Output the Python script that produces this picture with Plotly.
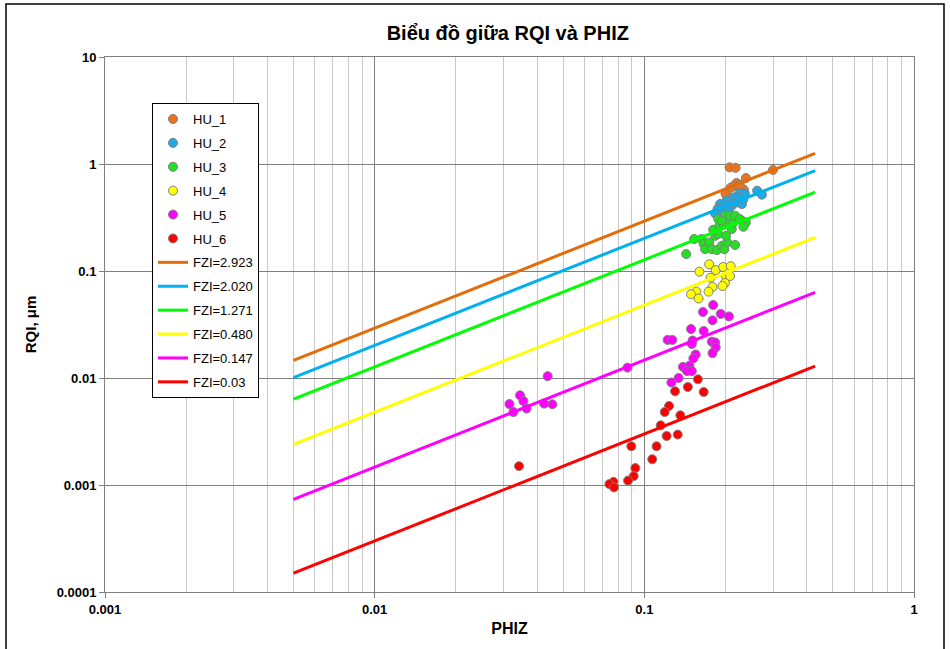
import plotly.graph_objects as go

# ---- data ----
hu1_phiz = [0.207, 0.218, 0.300, 0.238, 0.220, 0.214, 0.234, 0.209, 0.202, 0.228, 0.226, 0.200]
hu1_rqi = [0.93, 0.92, 0.88, 0.74, 0.665, 0.62, 0.575, 0.60, 0.505, 0.55, 0.64, 0.53]

hu2_phiz = [0.262, 0.273, 0.225, 0.214, 0.202, 0.191, 0.187, 0.183, 0.196, 0.211, 0.220, 0.230,
            0.233, 0.202, 0.194, 0.223, 0.236, 0.205]
hu2_rqi = [0.563, 0.517, 0.53, 0.487, 0.454, 0.423, 0.38, 0.345, 0.38, 0.408, 0.437, 0.423,
           0.47, 0.408, 0.341, 0.487, 0.527, 0.366]

hu3_phiz = [0.143, 0.153, 0.163, 0.166, 0.168, 0.174, 0.178, 0.186, 0.194, 0.198, 0.203, 0.217,
            0.183, 0.188, 0.201, 0.180, 0.190, 0.196, 0.211, 0.205, 0.214, 0.230, 0.238, 0.233,
            0.188, 0.199, 0.208, 0.217, 0.194, 0.226]
hu3_rqi = [0.144, 0.199, 0.199, 0.179, 0.160, 0.185, 0.160, 0.157, 0.172, 0.160, 0.185, 0.175,
           0.213, 0.222, 0.213, 0.243, 0.265, 0.275, 0.247, 0.284, 0.284, 0.295, 0.284, 0.259,
           0.306, 0.329, 0.329, 0.329, 0.295, 0.306]

hu4_phiz = [0.160, 0.174, 0.184, 0.196, 0.209, 0.176, 0.201, 0.208, 0.199, 0.195, 0.179, 0.173,
            0.156, 0.149, 0.159]
hu4_rqi = [0.0985, 0.1155, 0.102, 0.109, 0.111, 0.0866, 0.0885, 0.0898, 0.0772, 0.0724, 0.0709,
           0.0641, 0.0641, 0.0606, 0.0553]

hu5_phiz = [0.180, 0.165, 0.192, 0.206, 0.179, 0.149, 0.166, 0.122, 0.127, 0.151, 0.150, 0.178,
            0.183, 0.184, 0.179, 0.155, 0.152, 0.139, 0.147, 0.144, 0.150, 0.134, 0.126, 0.0866,
            0.0438, 0.0346, 0.0356, 0.0316, 0.0327, 0.0366, 0.0425, 0.0456]
hu5_rqi = [0.0481, 0.0414, 0.0397, 0.0376, 0.0346, 0.0287, 0.0275, 0.0227, 0.0227, 0.0224, 0.0208,
           0.0218, 0.0215, 0.0193, 0.0171, 0.0166, 0.0152, 0.0127, 0.0130, 0.0116, 0.0116, 0.0100,
           0.00908, 0.0125, 0.0104, 0.00689, 0.00610, 0.00571, 0.00481, 0.00518, 0.00576, 0.00568]

hu6_phiz = [0.158, 0.145, 0.166, 0.130, 0.1235, 0.119, 0.136, 0.115, 0.121, 0.133, 0.0895, 0.111,
            0.107, 0.0926, 0.0913, 0.087, 0.0768, 0.0742, 0.0772, 0.0343]
hu6_rqi = [0.00972, 0.00824, 0.00740, 0.00751, 0.00548, 0.00481, 0.00448, 0.00361, 0.00287, 0.00296,
           0.00230, 0.00230, 0.00174, 0.00144, 0.00121, 0.00110, 0.00107, 0.00102, 0.00095, 0.00150]

fzi_labels = ["FZI=2.923", "FZI=2.020", "FZI=1.271", "FZI=0.480", "FZI=0.147", "FZI=0.03"]
line_phiz = [0.005, 0.43]
fzi_2923_rqi = [0.0146, 1.257]
fzi_2020_rqi = [0.0101, 0.869]
fzi_1271_rqi = [0.00636, 0.547]
fzi_0480_rqi = [0.0024, 0.206]
fzi_0147_rqi = [0.000735, 0.0632]
fzi_003_rqi = [0.00015, 0.0129]

x_tickvals = [0.001, 0.01, 0.1, 1]
x_ticktext = ["0.001", "0.01", "0.1", "1"]
y_tickvals = [0.0001, 0.001, 0.01, 0.1, 1, 10]
y_ticktext = ["0.0001", "0.001", "0.01", "0.1", "1", "10"]

# ---- styles ----
point_series = [
    ("HU_1", hu1_phiz, hu1_rqi, "#E8741E"),
    ("HU_2", hu2_phiz, hu2_rqi, "#1EAAE6"),
    ("HU_3", hu3_phiz, hu3_rqi, "#22E022"),
    ("HU_4", hu4_phiz, hu4_rqi, "#FFFF00"),
    ("HU_5", hu5_phiz, hu5_rqi, "#FF00FF"),
    ("HU_6", hu6_phiz, hu6_rqi, "#FF0000"),
]
line_series = [
    (fzi_labels[0], fzi_2923_rqi, "#E46C0A"),
    (fzi_labels[1], fzi_2020_rqi, "#00B0F0"),
    (fzi_labels[2], fzi_1271_rqi, "#00FF00"),
    (fzi_labels[3], fzi_0480_rqi, "#FFFF00"),
    (fzi_labels[4], fzi_0147_rqi, "#FF00FF"),
    (fzi_labels[5], fzi_003_rqi, "#FF0000"),
]

FONT = "Liberation Sans, Arial, sans-serif"

fig = go.Figure()
for i, (name, xs, ys, col) in enumerate(point_series):
    fig.add_trace(go.Scatter(
        x=xs, y=ys, mode="markers", name=name, legendgroup="g%d" % i,
        marker=dict(size=9, color=col, line=dict(color="#7F7F7F", width=1)),
    ))
for j, (name, ys, col) in enumerate(line_series):
    fig.add_trace(go.Scatter(
        x=line_phiz, y=ys, mode="lines", name=name, legendgroup="l%d" % j,
        line=dict(color=col, width=3),
    ))

fig.update_layout(
    width=950, height=649,
    margin=dict(l=105, r=36, t=57, b=57),
    paper_bgcolor="white", plot_bgcolor="white",
    font=dict(family=FONT, color="#000000"),
    title=dict(text="Biểu đồ giữa RQI và PHIZ", x=0.5345, xanchor="center",
               y=1 - 33 / 649, yanchor="middle",
               font=dict(size=20, family=FONT, color="#000", weight="bold")),
    showlegend=True,
    legend=dict(x=(152 - 105) / 809, y=(592 - 103) / 535, xanchor="left", yanchor="top",
                bgcolor="white", bordercolor="#000000", borderwidth=1,
                font=dict(size=13, family=FONT, color="#000"),
                tracegroupgap=4, itemwidth=30),
)

fig.update_xaxes(
    type="log", range=[-3, 0],
    tickvals=x_tickvals, ticktext=x_ticktext,
    tickfont=dict(size=13, family=FONT, color="#000", weight="bold"),
    ticks="outside", ticklen=5, tickcolor="#808080",
    showline=True, linecolor="#808080", linewidth=1, mirror=True,
    showgrid=True, gridcolor="#808080", gridwidth=1,
    minor=dict(dtick="D1", showgrid=True, gridcolor="#C8C8C8", gridwidth=1, ticks=""),
    title=dict(text="PHIZ", font=dict(size=16, family=FONT, color="#000", weight="bold"),
               standoff=7),
)
fig.update_yaxes(
    type="log", range=[-4, 1],
    tickvals=y_tickvals, ticktext=y_ticktext,
    tickfont=dict(size=13, family=FONT, color="#000", weight="bold"),
    ticks="outside", ticklen=5, tickcolor="#808080",
    showline=True, linecolor="#808080", linewidth=1, mirror=True,
    showgrid=True, gridcolor="#808080", gridwidth=1,
    title=dict(text="RQI, μm", font=dict(size=15, family=FONT, color="#000", weight="bold"),
               standoff=16),
)

# outer chart frame
fig.add_shape(type="rect", xref="paper", yref="paper",
              x0=(6 - 105) / 809, x1=(944 - 105) / 809,
              y0=-0.2, y1=(592 - 4) / 535,
              line=dict(color="#000000", width=1.5), fillcolor="rgba(0,0,0,0)", layer="below")

fig.write_html("out.html")
